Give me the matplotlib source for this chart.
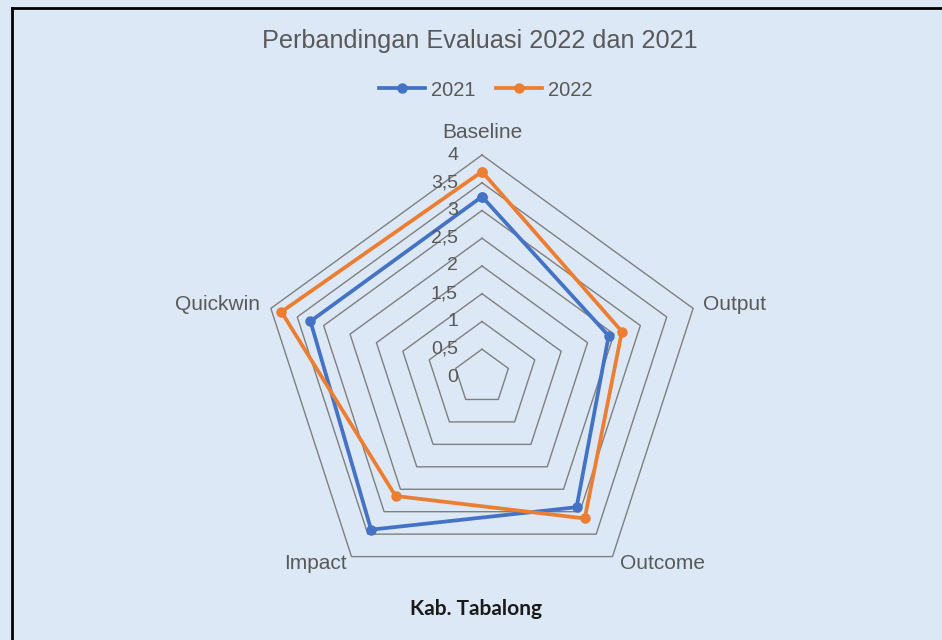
import numpy as np
import matplotlib
matplotlib.use("Agg")
import matplotlib.pyplot as plt
from matplotlib.lines import Line2D

categories = ["Baseline", "Output", "Outcome", "Impact", "Quickwin"]
values_2021 = [3.25, 2.4, 2.9, 3.4, 3.25]
values_2022 = [3.7, 2.65, 3.15, 2.65, 3.8]
ring_values = [0.5, 1, 1.5, 2, 2.5, 3, 3.5, 4]
tick_values = [0, 0.5, 1, 1.5, 2, 2.5, 3, 3.5, 4]
tick_labels = ["0", "0,5", "1", "1,5", "2", "2,5", "3", "3,5", "4"]
series_names = ["2021", "2022"]
title = "Perbandingan Evaluasi 2022 dan 2021"
subtitle = "Kab. Tabalong"

BG = "#dce8f5"
TXT = "#595959"
GRID = "#7f7f7f"
C21 = "#4472C4"
C22 = "#ED7D31"
FONT = "Liberation Sans"

W, H = 942, 640
fig = plt.figure(figsize=(W / 100, H / 100), dpi=100, facecolor=BG)

cx, cy, R = 482, 377, 222
ax = fig.add_axes([(cx - R) / W, (H - cy - R) / H, 2 * R / W, 2 * R / H],
                  projection="polar")
ax.set_theta_offset(np.pi / 2)
ax.set_theta_direction(-1)
ax.set_ylim(0, 4)
ax.set_axis_off()

n = len(categories)
angles = np.arange(n) * 2 * np.pi / n
closed = np.concatenate([angles, angles[:1]])

for r in ring_values:
    ax.plot(closed, [r] * (n + 1), color=GRID, lw=1.0, clip_on=False, zorder=1)

for vals, col, name in [(values_2021, C21, series_names[0]),
                        (values_2022, C22, series_names[1])]:
    v = list(vals) + [vals[0]]
    ax.plot(closed, v, color=col, lw=2.7, marker="o", markersize=6.5,
            clip_on=False, zorder=3, label=name)

px = 0.72  # px -> pt
for tv, tl in zip(tick_values, tick_labels):
    ax.annotate(tl, xy=(0, tv), xytext=(-24 * px, 0), textcoords="offset points",
                ha="right", va="center", fontsize=14, color=TXT, family=FONT,
                annotation_clip=False)

offsets = [((0, 23), "center", "center"),
           ((10, 4), "left", "center"),
           ((8, -7), "left", "center"),
           ((-5, -7), "right", "center"),
           ((-11, 4), "right", "center")]
for a, cat, (off, ha, va) in zip(angles, categories, offsets):
    ax.annotate(cat, xy=(a, 4), xytext=(off[0] * px, off[1] * px),
                textcoords="offset points", ha=ha, va=va, fontsize=15,
                color=TXT, family=FONT, annotation_clip=False)

fig.text(480 / W, 1 - 41 / H, title, ha="center", va="center",
         fontsize=18.2, color=TXT, family=FONT)
fig.text(476 / W, 1 - 609 / H, subtitle, ha="center", va="center",
         fontsize=15, color="#1a1a1a", family="Lato", fontweight="bold")

handles, labels = ax.get_legend_handles_labels()
leg = fig.legend(handles, labels, loc="center", bbox_to_anchor=(486 / W, 1 - 90 / H),
                 ncol=2, frameon=False, handlelength=2.3,
                 handletextpad=0.3, columnspacing=1.0,
                 prop={"family": FONT, "size": 14.5})
for t in leg.get_texts():
    t.set_color(TXT)

# chart border (top and left)
fig.add_artist(Line2D([12 / W, 1], [1 - 8 / H, 1 - 8 / H], color="black", lw=2,
                      transform=fig.transFigure))
fig.add_artist(Line2D([12 / W, 12 / W], [0, 1 - 8 / H], color="black", lw=2,
                      transform=fig.transFigure))

fig.savefig("out.png", dpi=100, facecolor=BG)
